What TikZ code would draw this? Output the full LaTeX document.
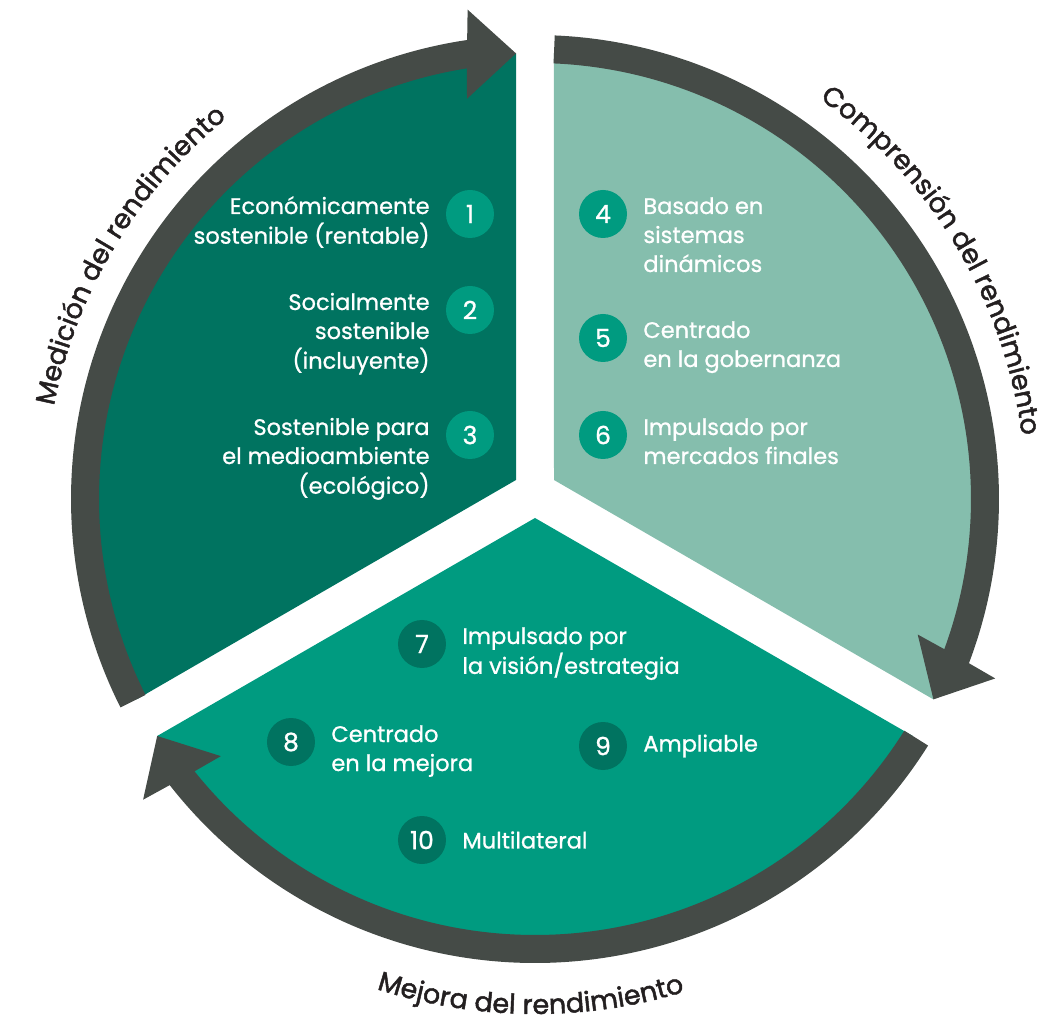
\documentclass[tikz,border=0pt]{standalone}
\usepackage{fontspec}
\setmainfont{Poppins}
\newfontfamily\medfont{Poppins}[FakeBold=0.9]
\newfontfamily\labelfont{Poppins}[FakeBold=1.8]
\usetikzlibrary{positioning,decorations.text}

\definecolor{mdark}{HTML}{007360}
\definecolor{mlight}{HTML}{85BEAD}
\definecolor{mteal}{HTML}{009B80}
\definecolor{ring}{HTML}{454B47}
\definecolor{ink}{HTML}{231F20}

\tikzset{
  badge/.style={circle, fill=#1, minimum size=48pt, inner sep=0pt, text=white,
    font=\medfont\fontsize{25}{25}\selectfont},
  item/.style={text=white, inner sep=0pt, font=\medfont\fontsize{22.5}{29}\selectfont},
  ringlabel/.style={decorate, decoration={text along path, text align=center,
    text={|\labelfont\fontsize{27}{27}\selectfont\color{ink}|#1}}}
}

% first line of a block sits on the node's base line
\newcommand{\stackr}[1]{\begin{tabular}[t]{@{}r@{}}#1\end{tabular}}
\newcommand{\stackl}[1]{\begin{tabular}[t]{@{}l@{}}#1\end{tabular}}

% #1 tail angle, #2 tip angle
\newcommand{\ringarrow}[2]{%
  \fill[ring] (#1:436) arc[start angle=#1, end angle=#2+6.55, radius=436]
    -- (#2+7.2:406) -- (#2:446) -- (#2+5.4:494) -- (#2+5.97:464)
    arc[start angle=#2+5.97, end angle=#1, radius=464] -- cycle;}

\begin{document}
\begin{tikzpicture}[x=1pt, y=1pt]
\useasboundingbox (-535,-528) rectangle (522,499);

% sectors
\fill[mdark] (-19,19) -- (92.44:446) arc[start angle=92.44, end angle=206.7, radius=446] -- cycle;
\fill[mlight] (19,19) -- (87.56:446) arc[start angle=87.56, end angle=-26.7, radius=446] -- cycle;
\fill[mteal] (0,-19) -- (212.1:446) arc[start angle=212.1, end angle=327.9, radius=446] -- cycle;

% ring arrows
\ringarrow{206.7}{92.44}
\ringarrow{87.56}{-26.7}
\ringarrow{327.9}{212.1}

\path[ringlabel=Medición del rendimiento] (178:490) arc[start angle=178, end angle=120, radius=490];
\path[ringlabel=Comprensión del rendimiento] (61:491) arc[start angle=61, end angle=1, radius=491];
\path[ringlabel=Mejora del rendimiento] (239.5:515) arc[start angle=239.5, end angle=299.5, radius=515];

% badges
\node[badge=mteal] (b1) at (-65,285) {1};
\node[badge=mteal] (b2) at (-65,189) {2};
\node[badge=mteal] (b3) at (-65,64) {3};
\node[badge=mteal] (b4) at (68,285) {4};
\node[badge=mteal] (b5) at (68,161) {5};
\node[badge=mteal] (b6) at (68,64) {6};
\node[badge=mdark] (b7) at (-113,-145) {7};
\node[badge=mdark] (b8) at (-244,-243) {8};
\node[badge=mdark] (b9) at (68,-247) {9};
\node[badge=mdark] (b10) at (-113,-341) {10};

% texts
\node[item, left=16pt of b1, anchor=base east] (t1) {\stackr{Económicamente\\sostenible (rentable)}};
\node[item, left=16pt of b2, anchor=base east] (t2) {\stackr{Socialmente\\sostenible\\(incluyente)}};
\node[item, left=16pt of b3, anchor=base east] (t3) {\stackr{Sostenible para\\el medioambiente\\(ecológico)}};
\node[item, right=16pt of b4, anchor=base west] (t4) {\stackl{Basado en\\sistemas\\dinámicos}};
\node[item, right=16pt of b5, anchor=base west] (t5) {\stackl{Centrado\\en la gobernanza}};
\node[item, right=16pt of b6, anchor=base west] (t6) {\stackl{Impulsado por\\mercados finales}};
\node[item, right=16pt of b7, anchor=base west] (t7) {\stackl{Impulsado por\\la visión/estrategia}};
\node[item, right=16pt of b8, anchor=base west] (t8) {\stackl{Centrado\\en la mejora}};
\node[item, right=16pt of b9] (t9) {Ampliable};
\node[item, right=16pt of b10] (t10) {Multilateral};
\end{tikzpicture}
\end{document}
